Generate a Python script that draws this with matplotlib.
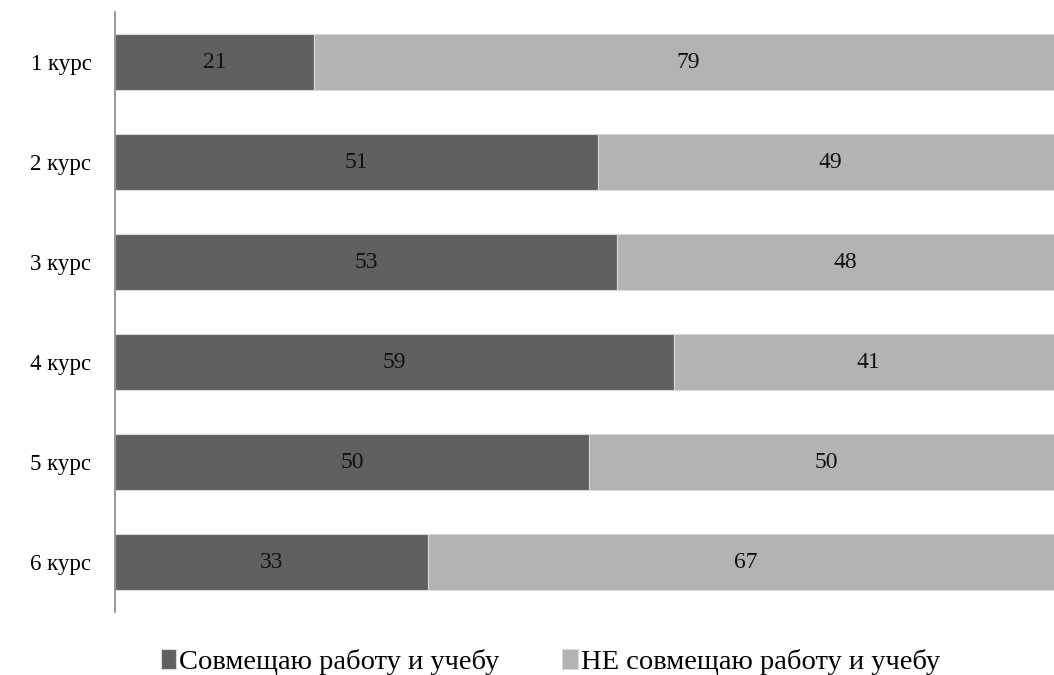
import matplotlib.pyplot as plt

# данные по курсам
courses = ["1 курс", "2 курс", "3 курс", "4 курс", "5 курс", "6 курс"]
combine = [21, 51, 53, 59, 50, 33]
not_combine = [79, 49, 48, 41, 50, 67]

dark = "#606060"
light = "#b3b3b3"

plt.rcParams['font.family'] = ['Liberation Serif', 'DejaVu Serif']

fig = plt.figure(figsize=(10.54, 6.75), dpi=100)
W, H = 1054, 675
ax = fig.add_axes([115 / W, (H - 612) / H, (1063 - 115) / W, 600 / H])

y = list(range(len(courses)))
b1 = ax.barh(y, combine, height=0.56, color=dark, edgecolor="#d9d9d9", linewidth=0.8,
             label="Совмещаю работу и учебу")
b2 = ax.barh(y, not_combine, left=combine, height=0.56, color=light, edgecolor="#d9d9d9",
             linewidth=0.8, label="НЕ совмещаю работу и учебу")

for i in y:
    ax.text(combine[i] / 2, i, str(combine[i]), ha="center", va="center", fontsize=17, color="#111111")
    ax.text(combine[i] + not_combine[i] / 2, i, str(not_combine[i]), ha="center", va="center",
            fontsize=17, color="#111111")

ax.set_xlim(0, 100)
ax.set_ylim(5.5, -0.5)
ax.set_yticks(y)
ax.set_yticklabels(courses, fontsize=16.5)
ax.tick_params(axis="y", length=0, pad=17)
ax.set_xticks([])
for s in ["top", "right", "bottom"]:
    ax.spines[s].set_visible(False)
ax.spines["left"].set_color("#888888")
ax.spines["left"].set_linewidth(1.2)

fig.legend(handles=[b1, b2], loc="center", bbox_to_anchor=(0.522, 1 - 662 / H), ncol=2,
           frameon=False, fontsize=20.5, handlelength=0.55, handleheight=0.7, handletextpad=0.1,
           columnspacing=2.2)

fig.savefig("out.png", dpi=100)
